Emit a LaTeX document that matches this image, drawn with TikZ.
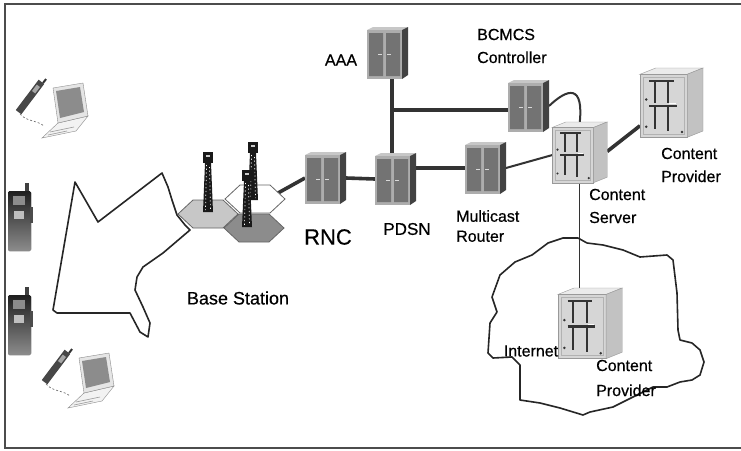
\documentclass[tikz,border=0pt]{standalone}
\usepackage{fontspec}
\setmainfont{Liberation Sans}
\newfontfamily\lblfont[FakeBold=0.5]{Liberation Sans}
\usetikzlibrary{calc,backgrounds,positioning}

\tikzset{
  outline/.style={draw=black!85, line width=1.6pt, line join=round},
  link/.style={draw=black!80, line width=3.6pt},
  thinlink/.style={draw=black!80, line width=2pt},
  lbl/.style={inner sep=0pt, align=left, font=\lblfont\fontsize{16}{23}\selectfont},
  cellline/.style={draw=black!60, line width=0.8pt},
  % equipment rack, two doors, 41 x 52
  pics/rack/.style={code={
    \fill[black!22] (0,3) -- (6,0) -- (41,0) -- (35,3) -- cycle;
    \fill[black!32] (0,3) rectangle (35,52);
    \fill[black!74] (35,3) -- (41,0) -- (41,48) -- (35,52) -- cycle;
    \fill[black!55] (2,6) rectangle (16,49) (19,6) rectangle (33,49);
    \draw[black!15, line width=0.8pt] (11,27) -- (15,27) (20,27) -- (24,27);
    \coordinate (-w) at (0,26); \coordinate (-e) at (41,26);
    \coordinate (-n) at (20,0); \coordinate (-s) at (18,52);
    \coordinate (-c) at (20,26);
  }},
  % server cabinet, 60 x 66 before scaling
  pics/cabinet/.style={code={
    \begin{scope}[scale=#1]
      \filldraw[draw=black!40, fill=black!8] (0,6) -- (15,0) -- (60,0) -- (45,6) -- cycle;
      \filldraw[draw=black!40, fill=black!16] (0,6) rectangle (45,66);
      \filldraw[draw=black!40, fill=black!24] (45,6) -- (60,0) -- (60,60) -- (45,66) -- cycle;
      \draw[black!30] (3,9) rectangle (42,63);
      \draw[black!80, line width=2.2pt] (9,12) -- (32,12) (14,12) -- (14,33) (27,12) -- (27,33)
        (9,36) -- (35,36) (14,36) -- (14,58) (27,36) -- (27,60);
      \draw[white, line width=0.8pt] (28,34) -- (34,34);
      \fill[black!80] (6,30) circle (1.3) (6,56) circle (1.3) (40,61) circle (1.3);
      \coordinate (-w) at (0,36); \coordinate (-e) at (60,32);
      \coordinate (-lw) at (0,55); \coordinate (-n) at (30,2);
      \coordinate (-s) at (30,66);
    \end{scope}
  }},
  % lattice mast, #1 = height
  pics/tower/.style={code={
    \fill[black!90] (-5,0) rectangle (5,11);
    \fill[black!90] (-3,11) -- (3,11) -- (5,#1) -- (-5,#1) -- cycle;
    \draw[white, line width=0.7pt, dash pattern=on 1.2pt off 2.5pt]
      (-1.5,13) -- (-2.5,#1-2) (1.5,15) -- (2.5,#1-2);
    \fill[black!20] (-2,3) rectangle (2,5);
  }},
  pics/cell/.style={code={
    \filldraw[cellline, fill=#1] (-30,0) -- (-15,-14) -- (15,-14) -- (30,0)
      -- (15,14) -- (-15,14) -- cycle;
  }},
  pics/handset/.style={code={
    \fill[black!75] (17,0) rectangle (21,9);
    \fill[rounded corners=1.5pt, top color=black!88, bottom color=black!45] (0,8) rectangle (23,68);
    \fill[black!45] (5,13) rectangle (17,22);
    \fill[black!25] (6,28) rectangle (16,36);
    \fill[black!70] (22,24) rectangle (25,40);
  }},
  pics/laptop/.style={code={
    \draw[black!55, line width=0.7pt, dash pattern=on 2pt off 2pt]
      (3,34) .. controls (10,42) and (20,40) .. (27,46);
    \begin{scope}[shift={(13,17)}, rotate=-37]
      \fill[black!72] (-3.5,-19) rectangle (3.5,19);
      \fill[black!35] (-2,-14) rectangle (2,-6);
      \fill[black!80] (1,-24) rectangle (3,-19);
    \end{scope}
    \filldraw[draw=black!45, fill=black!5] (41,43) -- (71,36) -- (59,51) -- (25,58) -- cycle;
    \draw[black!40, line width=0.6pt] (33,52) -- (57,47) (31,55) -- (50,51);
    \filldraw[draw=black!45, fill=black!10] (36,8) -- (66,3) -- (71,36) -- (41,43) -- cycle;
    \fill[black!45] (39,11) -- (63,7) -- (67,32) -- (43,38) -- cycle;
  }}
}

\begin{document}
\begin{tikzpicture}[x=1pt,y=-1pt]
\useasboundingbox (0,0) rectangle (741,450);

% frame
\draw[line width=1.6pt, draw=black!70] (741,4) -- (5,4) -- (5,448) -- (741,448);

% coverage area and internet
\draw[outline] (75,182) -- (98,222) -- (162,173) -- (168,187) -- (172,200) -- (177,215)
  -- (185,225) -- (190,230) -- (163,253) -- (143,267) -- (137,277) -- (135,290)
  -- (143,307) -- (150,323) -- (148,337) -- (140,332) -- (130,313) -- (57,313)
  -- (53,310) -- cycle;
\draw[outline] (578,238) -- (563,238) -- (548,243) -- (532,255) -- (515,262) -- (500,275)
  -- (492,297) -- (497,312) -- (490,323) -- (488,353) -- (493,358) -- (512,357)
  -- (520,365) -- (520,400) -- (540,403) -- (560,408) -- (583,415) -- (590,412)
  -- (613,407) -- (633,397) -- (653,387) -- (667,387) -- (680,382) -- (692,380)
  -- (700,375) -- (704,362) -- (700,350) -- (692,343) -- (680,340) -- (678,330)
  -- (677,293) -- (673,260) -- (667,255) -- (640,257) -- (623,250) -- (603,245)
  -- (587,243) -- cycle;

% base station cells
\pic (upcell) at (255,199) {cell=white};
\pic (leftcell) at (208,214) {cell=black!22};
\pic (mast1) at (208,152) {tower=60};
\pic (mast2) at (253,142) {tower=58};
\pic (lowcell) at (254,228) {cell=black!45};
\pic (mast3) at (247,170) {tower=57};

% racks
\pic (aaa) at (367,27) {rack};
\pic (bcmcs) at (508,80) {rack};
\pic (rnc) at (305,152) {rack};
\pic (pdsn) at (375,153) {rack};
\pic (mcr) at (465,142) {rack};

% servers
\pic (cs) at (552,122) {cabinet=0.92};
\pic (cpa) at (640,68) {cabinet=1.05};
\pic (cpb) at (558,288) {cabinet=1.07};

% terminals
\pic (lap1) at (17,80) {laptop};
\pic (lap2) at (43,350) {laptop};
\pic (hand1) at (8,183) {handset};
\pic (hand2) at (8,287) {handset};

% labels
\node[lbl] (aaalbl) at (341,60) {AAA};
\node[lbl, anchor=west] (bcmcslbl) at (477,46) {BCMCS\\Controller};
\node[lbl, font=\lblfont\fontsize{22}{26}\selectfont] (rnclbl) at (328,237) {RNC};
\node[lbl, font=\lblfont\fontsize{17}{20}\selectfont] (pdsnlbl) at (407,229) {PDSN};
\node[lbl, anchor=west, font=\lblfont\fontsize{16}{20}\selectfont] (mcrlbl) at (456,226) {Multicast\\Router};
\node[lbl, anchor=west] (cslbl) at (589,206) {Content\\Server};
\node[lbl, anchor=west] (cpalbl) at (661,165) {Content\\Provider};
\node[lbl] (netlbl) at (531,351) {Internet};
\node[lbl, anchor=west, font=\lblfont\fontsize{16}{25}\selectfont] (cpblbl) at (596,378) {Content\\Provider};
\node[lbl, font=\lblfont\fontsize{18}{20}\selectfont] (bslbl) at (238,298) {Base Station};

% links
\begin{scope}[on background layer]
  \fill[white] (0,0) rectangle (741,450);
  \coordinate (bsport) at (278,193);
  \coordinate (tee) at (392,110);
  \draw[link] (bsport) -- (rnc-w);
  \draw[link] (rnc-e) -- (pdsn-w);
  \draw[link] (mcr-w) -- (mcr-w -| pdsn-e);
  \draw[link] (tee |- aaa-s) -- (tee |- pdsn-n);
  \draw[link] (tee) -- (tee -| bcmcs-c);
  \draw[thinlink] (mcr-e) -- (cs-w);
  \draw[link] (cs-e) -- (cpa-lw);
  \draw[thinlink] (bcmcs-e) .. controls (568,88) and (584,84) .. (cs-n);
  \draw[draw=black!80, line width=1.3pt] (cs-s) -- (cs-s |- cpb-n);
\end{scope}
\end{tikzpicture}
\end{document}
